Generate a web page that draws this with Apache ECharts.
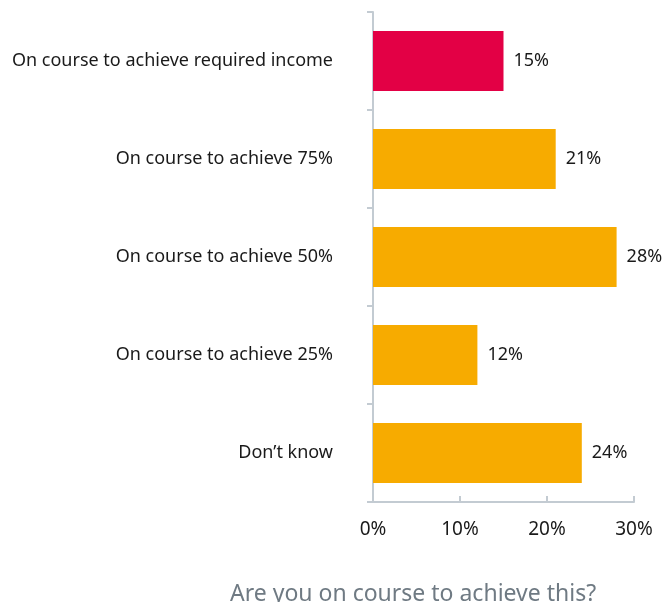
<!DOCTYPE html>
<html>
<head>
<meta charset="utf-8">
<script src="https://cdn.jsdelivr.net/npm/echarts@6/dist/echarts.min.js"></script>
<style>
  html, body { margin: 0; padding: 0; background: #fff; }
  #chart { width: 669px; height: 602px; }
</style>
</head>
<body>
<div id="chart"></div>
<script>
// answers, top to bottom
const categories = [
  "On course to achieve required income",
  "On course to achieve 75%",
  "On course to achieve 50%",
  "On course to achieve 25%",
  "Don\u2019t know"
];
const values = [15, 21, 28, 12, 24];
const barColors = ["#e30045", "#f7ab00", "#f7ab00", "#f7ab00", "#f7ab00"];
const xTicks = [0, 10, 20, 30];

const axisColor = "#c3cbd2";
const font = "Noto Sans";

const chart = echarts.init(document.getElementById("chart"));
chart.setOption({
  animation: false,
  textStyle: { fontFamily: font },
  title: {
    text: "Are you on course to achieve this?",
    left: 225,
    top: 578,
    textStyle: { fontFamily: font, fontSize: 23, fontWeight: "normal", color: "#6f7a83" }
  },
  grid: { left: 373, right: 35, top: 12, bottom: 100 },
  xAxis: {
    type: "value",
    min: xTicks[0],
    max: xTicks[xTicks.length - 1],
    interval: 10,
    splitLine: { show: false },
    axisLine: { show: true, lineStyle: { color: axisColor, width: 2 } },
    axisTick: { show: true, inside: true, length: 6, lineStyle: { color: axisColor, width: 2 } },
    axisLabel: { formatter: "{value}%", fontSize: 19, color: "#1a1a1a", margin: 18 }
  },
  yAxis: {
    type: "category",
    data: categories,
    inverse: true,
    axisLine: { show: true, lineStyle: { color: axisColor, width: 2 } },
    axisTick: { show: true, length: 6, lineStyle: { color: axisColor, width: 2 } },
    axisLabel: { fontSize: 18, color: "#1a1a1a", margin: 40, padding: [4, 0, 0, 0] }
  },
  series: [{
    type: "bar",
    barWidth: 60,
    data: values.map((v, i) => ({ value: v, itemStyle: { color: barColors[i] } })),
    label: {
      show: true,
      position: "right",
      distance: 10,
      formatter: "{c}%",
      fontSize: 18,
      color: "#1a1a1a",
      padding: [4, 0, 0, 0]
    }
  }]
});
</script>
</body>
</html>
